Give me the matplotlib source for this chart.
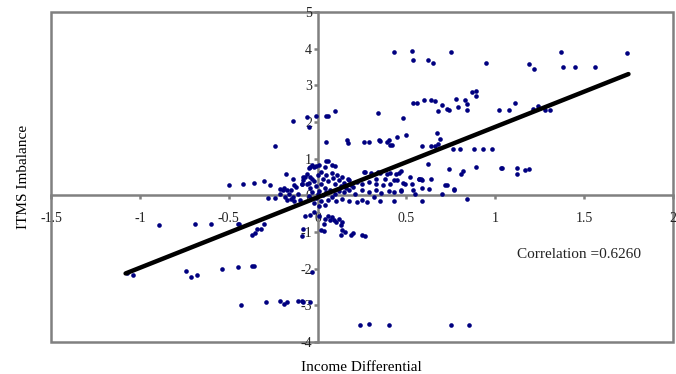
import numpy as np
import matplotlib
matplotlib.use("Agg")
import matplotlib.pyplot as plt
from matplotlib.patches import Rectangle

plt.rcParams['font.family'] = ['Liberation Serif', 'DejaVu Serif']

# points (income differential, ITMS imbalance)
pts = [
    # top rows
    (0.43, 3.92), (0.53, 3.95), (0.54, 3.68), (0.62, 3.69), (0.65, 3.62), (0.75, 3.92),
    (0.95, 3.62), (1.19, 3.59), (1.22, 3.45), (1.37, 3.92), (1.38, 3.49), (1.45, 3.51),
    (1.56, 3.50), (1.74, 3.89),
    (0.48, 2.11), (0.54, 2.53), (0.56, 2.53), (0.60, 2.61), (0.64, 2.61), (0.66, 2.57),
    (0.68, 2.31), (0.70, 2.47), (0.73, 2.36), (0.74, 2.33), (0.78, 2.63), (0.79, 2.40),
    (0.83, 2.59), (0.84, 2.50), (0.84, 2.34), (0.87, 2.82), (0.89, 2.84), (0.89, 2.71),
    (1.02, 2.34), (1.08, 2.34), (1.11, 2.53), (1.21, 2.35), (1.24, 2.44), (1.28, 2.33),
    (1.31, 2.33),
    (-0.14, 2.03), (-0.06, 2.14), (-0.05, 1.86), (-0.01, 2.17), (0.05, 2.17), (0.06, 2.17),
    (0.10, 2.31), (0.34, 2.26), (-0.24, 1.36), (0.045, 1.45),
    # around 1.3 - 1.7
    (0.165, 1.50), (0.17, 1.43), (0.26, 1.45), (0.29, 1.45), (0.345, 1.52), (0.35, 1.48),
    (0.39, 1.45), (0.40, 1.52), (0.41, 1.38), (0.42, 1.38), (0.45, 1.59), (0.50, 1.66),
    (0.59, 1.35), (0.64, 1.35), (0.66, 1.35), (0.68, 1.39), (0.67, 1.70), (0.69, 1.53),
    (0.76, 1.26), (0.80, 1.26), (0.88, 1.26), (0.93, 1.26), (0.98, 1.26),
    # 0.5 - 1
    (0.05, 0.94), (0.06, 0.95), (0.62, 0.85), (0.74, 0.72), (0.81, 0.58), (0.82, 0.67),
    (0.89, 0.78), (1.03, 0.76), (1.04, 0.75), (1.12, 0.75), (1.12, 0.57), (1.17, 0.68),
    (1.19, 0.72), (0.26, 0.65), (0.30, 0.62), (0.34, 0.65), (0.41, 0.60), (0.46, 0.61),
    (0.27, 0.64), (0.35, 0.61), (0.39, 0.59), (0.44, 0.57), (0.47, 0.66), (0.52, 0.50),
    (-0.01, 0.79), (0.01, 0.82), (0.04, 0.77), (0.08, 0.82), (0.10, 0.79),
    (-0.04, 0.77), (-0.02, 0.77), (-0.05, 0.75), (-0.03, 0.82), (-0.18, 0.58),
    # near the line right of zero
    (0.33, 0.44), (0.38, 0.44), (0.43, 0.43), (0.48, 0.34), (0.53, 0.32), (0.57, 0.44),
    (0.59, 0.41), (0.58, 0.45), (0.64, 0.44), (0.73, 0.28), (0.77, 0.17), (0.72, 0.27),
    (0.70, 0.05), (0.84, -0.09), (0.59, -0.14), (0.43, -0.14), (0.59, 0.21), (0.63, 0.18),
    (0.54, 0.14), (0.47, 0.12), (0.77, 0.14), (0.57, 0.45),
    (0.18, 0.41), (0.22, 0.36), (0.25, 0.32), (0.29, 0.36), (0.33, 0.32), (0.37, 0.27),
    (0.41, 0.32), (0.45, 0.43), (0.49, 0.32),
    (0.25, 0.14), (0.29, 0.09), (0.33, 0.14), (0.36, 0.06), (0.40, 0.12), (0.43, 0.09),
    (0.47, 0.14), (0.55, 0.05),
    (0.18, -0.14), (0.22, -0.18), (0.25, -0.12), (0.28, -0.18), (0.32, -0.05), (0.35, -0.14),
    (0.14, -0.09), (0.105, -0.14),
    # dense cluster near origin
    (0.00, 0.55), (0.02, 0.65), (0.03, 0.45), (0.05, 0.55), (0.06, 0.38), (0.08, 0.62),
    (0.09, 0.48), (0.10, 0.30), (0.11, 0.55), (0.12, 0.42), (0.13, 0.25), (0.14, 0.50),
    (0.15, 0.35), (0.16, 0.20), (0.17, 0.45), (0.02, 0.30), (0.04, 0.20), (0.01, 0.12),
    (-0.01, 0.25), (-0.02, 0.40), (0.00, 0.05), (0.03, 0.00), (0.05, 0.10), (0.07, 0.15),
    (0.08, -0.05), (0.06, -0.12), (0.02, -0.15), (-0.01, -0.08), (0.10, 0.05), (0.12, 0.12),
    (0.15, 0.08), (0.18, 0.15), (0.20, 0.22), (0.21, 0.05), (0.19, 0.28), (-0.03, 0.10),
    (-0.04, 0.20), (-0.05, -0.02), (-0.06, 0.30), (-0.02, -0.20), (0.01, -0.30), (0.04, -0.25),
    (-0.13, 0.28), (-0.09, 0.30), (-0.05, 0.35), (-0.03, 0.45), (-0.19, 0.20), (-0.15, 0.15),
    (-0.09, 0.32), (-0.08, 0.50), (-0.06, 0.59), (-0.045, 0.50), (-0.14, 0.44), (-0.08, 0.43),
    (-0.07, 0.50), (-0.21, 0.17),
    # left of zero, above axis
    (-0.50, 0.28), (-0.42, 0.31), (-0.36, 0.35), (-0.30, 0.38), (-0.27, 0.27),
    (-0.28, -0.06), (-0.24, -0.06), (-0.21, 0.05), (-0.195, 0.14), (-0.17, 0.14),
    (-0.16, 0.05), (-0.15, -0.09), (-0.12, 0.23), (-0.11, 0.05), (-0.10, -0.12),
    (-0.185, -0.05), (-0.17, -0.12), (-0.14, -0.05), (-0.13, -0.14),
    # below the axis
    (-0.89, -0.80), (-0.69, -0.77), (-0.60, -0.77), (-0.45, -0.79), (-0.44, -0.79),
    (-0.37, -1.09), (-0.35, -1.04), (-0.34, -0.91), (-0.32, -0.91), (-0.30, -0.79),
    (-0.08, -0.92), (-0.09, -1.11), (-0.07, -0.55), (-0.04, -0.53), (-0.02, -0.45),
    (0.02, -0.94), (0.035, -0.97), (0.035, -0.77), (0.06, -0.55), (0.08, -0.59),
    (0.095, -0.68), (0.105, -0.73), (0.14, -0.73), (0.12, -0.64), (0.01, -0.55),
    (0.04, -0.64), (0.07, -0.68), (0.13, -0.82), (0.13, -1.07), (0.155, -1.00),
    (0.19, -1.07), (0.27, -1.11), (0.14, -0.95), (0.20, -1.04), (0.25, -1.09),
    # lower groups
    (-1.07, -2.13), (-1.04, -2.16), (-0.74, -2.06), (-0.71, -2.23), (-0.68, -2.16),
    (-0.54, -2.02), (-0.45, -1.95), (-0.37, -1.93), (-0.36, -1.93), (-0.03, -2.09),
    (-0.43, -3.00), (-0.29, -2.91), (-0.21, -2.88), (-0.19, -2.97), (-0.17, -2.92),
    (-0.11, -2.88), (-0.08, -2.91), (-0.04, -2.91), (-0.09, -2.89),
    (0.24, -3.54), (0.29, -3.51), (0.40, -3.54), (0.75, -3.54), (0.85, -3.54),
]
income_diff = [p[0] for p in pts]
itms_imbalance = [p[1] for p in pts]

# fitted trend line end points
trend_x = [-1.08, 1.75]
trend_y = [-2.13, 3.31]

x_ticks = [-1.5, -1, -0.5, 0, 0.5, 1, 1.5, 2]
x_labels = ['-1.5', '-1', '-0.5', '0', '0.5', '1', '1.5', '2']
y_ticks = [-4, -3, -2, -1, 0, 1, 2, 3, 4, 5]
y_labels = ['-4', '-3', '-2', '-1', '0', '1', '2', '3', '4', '5']

gray = '#808080'

fig = plt.figure(figsize=(6.76, 3.74), dpi=100)
ax = fig.add_axes([0.0754, 0.0856, 0.92, 0.882])

ax.scatter(income_diff, itms_imbalance, s=11, c='#000080', linewidths=0, zorder=3)
ax.plot(trend_x, trend_y, color='black', lw=3.2, solid_capstyle='round', zorder=4)

ax.set_xlim(-1.5, 2)
ax.set_ylim(-4, 5)

for side in ['left', 'bottom']:
    ax.spines[side].set_position(('data', 0))
    ax.spines[side].set_color(gray)
    ax.spines[side].set_linewidth(1.8)
for side in ['top', 'right']:
    ax.spines[side].set_visible(False)

# outer frame
ax.add_patch(Rectangle((0, 0), 1, 1, transform=ax.transAxes, fill=False,
                       edgecolor=gray, lw=1.8, clip_on=False, zorder=1))

ax.set_xticks(x_ticks)
ax.set_xticklabels(x_labels)
ax.set_yticks(y_ticks)
ax.set_yticklabels(y_labels)
ax.tick_params(axis='both', direction='out', length=3, width=1.8, color=gray,
               labelsize=10, labelcolor='#222222')
ax.tick_params(axis='x', pad=9)
ax.tick_params(axis='y', pad=1)

ax.text(1.12, -1.7, 'Correlation =0.6260', fontsize=11, color='#222222')

fig.text(0.535, 0.0, 'Income Differential', ha='center', va='bottom', fontsize=11)
fig.text(0.035, 0.527, 'ITMS Imbalance', ha='center', va='center', rotation=90, fontsize=11)

fig.savefig('out.png', dpi=100)
